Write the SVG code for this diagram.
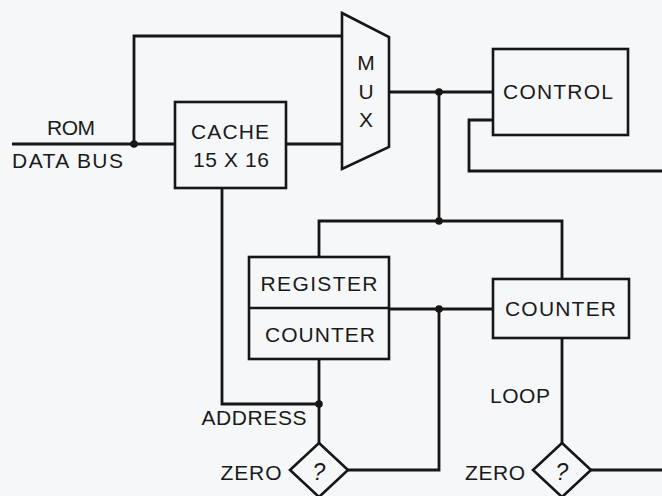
<svg xmlns="http://www.w3.org/2000/svg" width="662" height="496" viewBox="0 0 662 496">
<style>
.bg{fill:#f5f7f9}
.box{fill:none;stroke:#161616;stroke-width:2.6}
.w{fill:none;stroke:#161616;stroke-width:2.8;stroke-linejoin:miter}
.dot{fill:#161616}
text{font-family:"Liberation Sans",Arial,sans-serif;font-size:21px;fill:#1a1a1a}
.c{text-anchor:middle}
.q{font-style:italic;font-size:23px;font-weight:300}
</style>
<rect class="bg" x="0" y="0" width="662" height="496"/>
<g id="connectors">
<polyline class="w" points="12,144 175,144"/>
<polyline class="w" points="134,144 134,36 342,36"/>
<polyline class="w" points="286,144 342,144"/>
<polyline class="w" points="389,92 493,92"/>
<polyline class="w" points="439,92 439,221"/>
<polyline class="w" points="319,256 319,221 562,221 562,279"/>
<polyline class="w" points="493,120 469,120 469,171 662,171"/>
<polyline class="w" points="222,188 222,404 319,404"/>
<polyline class="w" points="319,359 319,443"/>
<polyline class="w" points="389,309 493,309"/>
<polyline class="w" points="439,309 439,470 348,470"/>
<polyline class="w" points="562,338 562,443"/>
<polyline class="w" points="591,470 662,470"/>
<circle class="dot" cx="134" cy="144" r="3.8"/>
<circle class="dot" cx="439" cy="92" r="3.8"/>
<circle class="dot" cx="439" cy="221" r="3.8"/>
<circle class="dot" cx="319" cy="404" r="3.8"/>
<circle class="dot" cx="439" cy="309" r="3.8"/>
</g>
<g id="labels">
<text x="71" y="135" class="c" textLength="48">ROM</text>
<text x="12" y="168" textLength="111">DATA BUS</text>
<text x="254" y="425" class="c" textLength="105">ADDRESS</text>
<text x="251" y="480" class="c" textLength="61">ZERO</text>
<text x="520" y="403" class="c" textLength="60">LOOP</text>
<text x="495" y="480" class="c" textLength="60">ZERO</text>
</g>
<g id="cache">
<rect class="box" x="175" y="102" width="111" height="86"/>
<text x="230" y="139" class="c" textLength="78">CACHE</text>
<text x="231" y="166.5" class="c" textLength="76">15 X 16</text>
</g>
<g id="mux">
<polygon class="box" points="342,13 389,37 389,147 342,169"/>
<text x="366" y="70" class="c">M</text>
<text x="366" y="99" class="c">U</text>
<text x="366" y="127" class="c">X</text>
</g>
<g id="control">
<rect class="box" x="493" y="49" width="135" height="86"/>
<text x="558" y="99" class="c" textLength="110">CONTROL</text>
</g>
<g id="register-counter">
<rect class="box" x="249" y="257" width="140" height="102"/>
<line class="box" x1="249" y1="308" x2="389" y2="308"/>
<text x="319" y="290.5" class="c" textLength="117">REGISTER</text>
<text x="320" y="341.5" class="c" textLength="110">COUNTER</text>
</g>
<g id="loop-counter">
<rect class="box" x="493" y="279" width="136" height="59"/>
<text x="560.5" y="316" class="c" textLength="111">COUNTER</text>
</g>
<g id="zero-test-1">
<polygon class="box" points="319,443 348,470 319,497 290,470"/>
<text x="319" y="480" class="c q">?</text>
</g>
<g id="zero-test-2">
<polygon class="box" points="562,443 591,470 562,497 533,470"/>
<text x="562" y="480" class="c q">?</text>
</g>
</svg>
